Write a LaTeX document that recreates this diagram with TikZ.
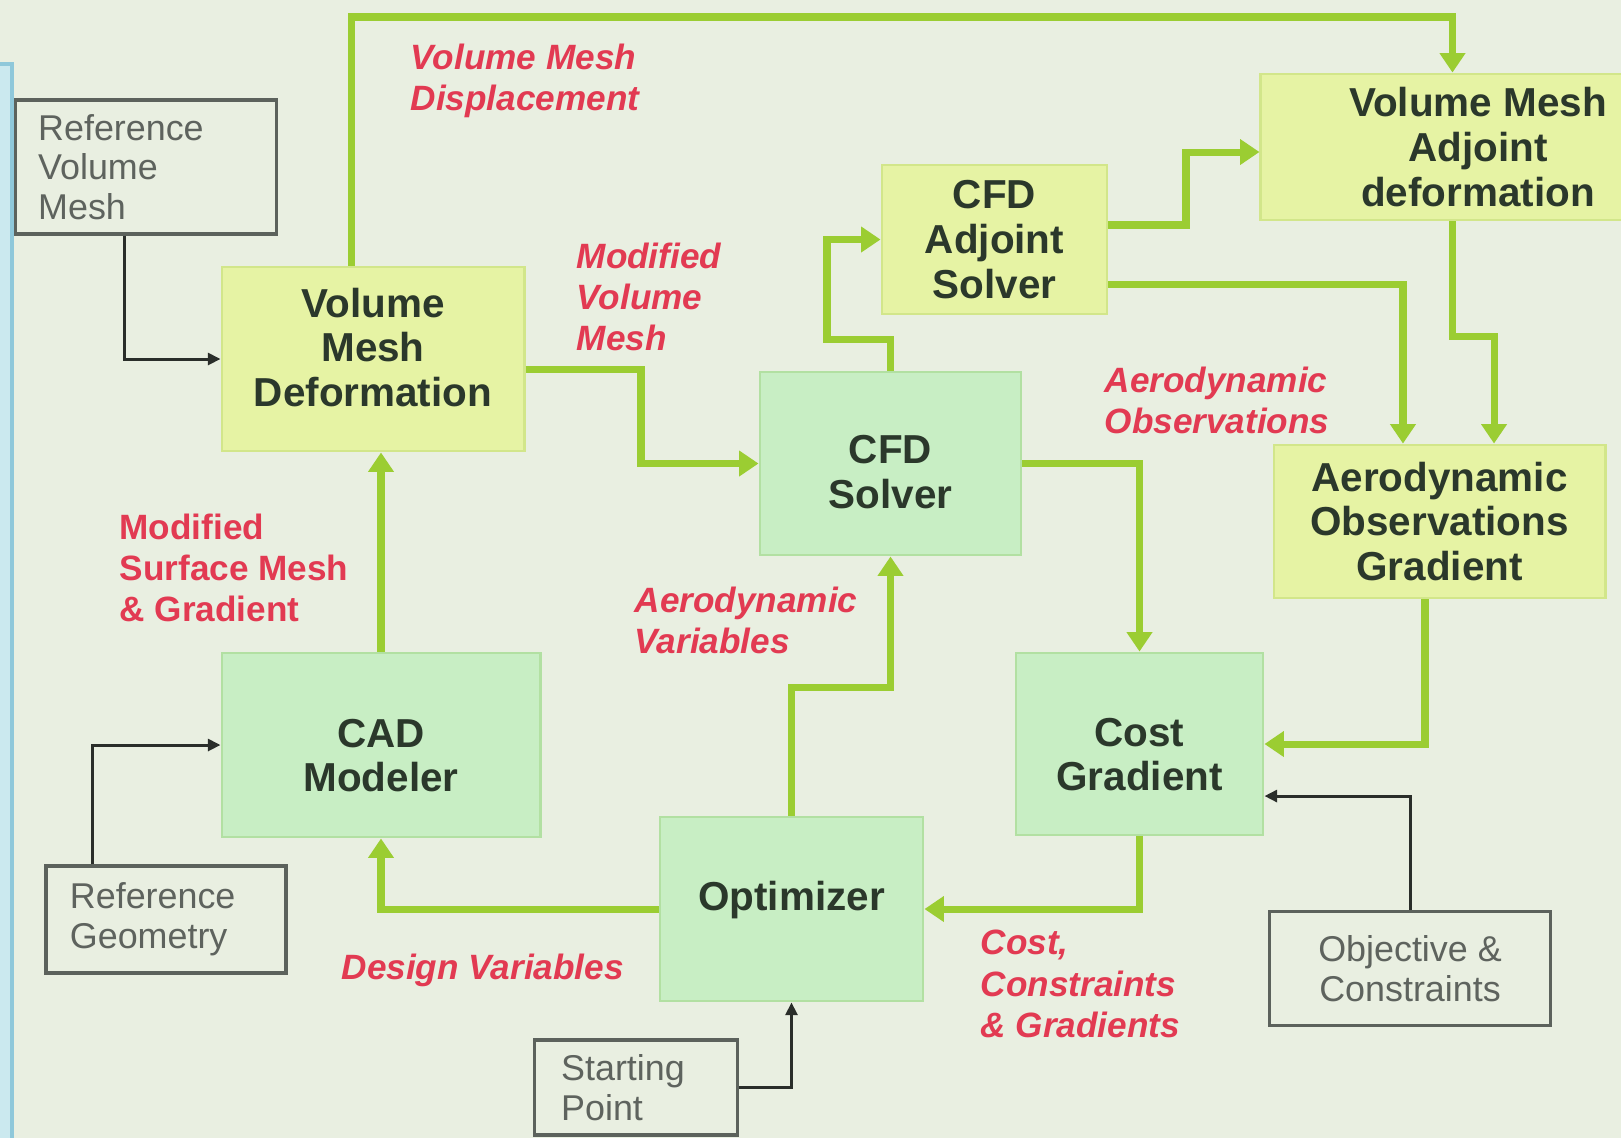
\documentclass[tikz,border=0pt]{standalone}
\usepackage{fontspec}
\setmainfont{Liberation Sans}
\usepackage{xcolor}
\usetikzlibrary{arrows.meta}

\definecolor{bggray}{HTML}{E9EFE1}
\definecolor{barcyan}{HTML}{CBE9EF}
\definecolor{barline}{HTML}{8FC8DA}
\definecolor{yellowfill}{HTML}{E6F3A4}
\definecolor{yellowline}{HTML}{D2E68A}
\definecolor{greenfill}{HTML}{C8EEC4}
\definecolor{greenline}{HTML}{B2E0A2}
\definecolor{flowgreen}{HTML}{9BCD32}
\definecolor{feedblack}{HTML}{2A2E2A}
\definecolor{greyline}{HTML}{5C625C}
\definecolor{greytext}{HTML}{5E635E}
\definecolor{boxtext}{HTML}{2B382B}
\definecolor{tagred}{HTML}{E23A52}

\newcommand{\blockfont}{\fontsize{11.5}{12.7}\selectfont\bfseries}
\newcommand{\notefont}{\fontsize{10.2}{11.3}\selectfont}
\newcommand{\redfont}{\fontsize{10}{11.7}\selectfont\bfseries}

\begin{document}
\begin{tikzpicture}[x=0.01cm, y=-0.01cm,
  yellowbox/.style={draw=yellowline, fill=yellowfill, line width=0.8pt, text=boxtext, font=\blockfont, align=center, inner sep=0pt},
  greenbox/.style={yellowbox, draw=greenline, fill=greenfill},
  greybox/.style={draw=greyline, line width=0.9pt, text=greytext, font=\notefont, inner sep=0pt},
  tag/.style={text=tagred, font=\redfont\itshape, align=left, inner sep=0pt, anchor=west},
  flow/.style={draw=flowgreen, line width=2pt, -{Triangle[length=5.5pt,width=7pt]}},
  feed/.style={draw=feedblack, line width=0.85pt, -{Triangle[length=3.6pt,width=3.4pt]}}]

\useasboundingbox (0,0) rectangle (1621,1138);
\fill[bggray] (0,0) rectangle (1621,1138);

\fill[barcyan] (0,64) rectangle (12,1138);
\draw[barline, line width=1pt] (0,64) -- (12,64) -- (12,1138);

% input boxes
\node[greybox, text width=2.16cm, inner xsep=0.225cm, align=left, minimum height=1.34cm] (refvol) at (146.25,167) {Reference\\Volume\\Mesh};
\node[greybox, text width=1.92cm, inner xsep=0.24cm, align=left, minimum height=1.07cm] (refgeo) at (166,919.5) {Reference\\Geometry};
\node[greybox, text width=1.49cm, inner xsep=0.27cm, align=left, minimum height=0.95cm] (startpt) at (635.75,1087.5) {Starting\\Point};
\node[greybox, align=center, minimum width=2.81cm, minimum height=1.14cm] (objcon) at (1410,968.7) {Objective \&\\Constraints};

% process boxes
\node[yellowbox, minimum width=3.02cm, minimum height=1.84cm, text depth=0.24cm] (vmd) at (373,359) {Volume\\Mesh\\Deformation};
\node[yellowbox, minimum width=2.25cm, minimum height=1.49cm] (cfdadj) at (994.5,239.5) {CFD\\Adjoint\\Solver};
\node[yellowbox, minimum width=4.34cm, minimum height=1.46cm] (vmadj) at (1478,147) {Volume Mesh\\Adjoint\\deformation};
\node[yellowbox, minimum width=3.31cm, minimum height=1.53cm] (aog) at (1439.5,521.5) {Aerodynamic\\Observations\\Gradient};

\node[greenbox, minimum width=2.61cm, minimum height=1.83cm, text height=0.9cm] (cfds) at (890.5,463.5) {CFD\\Solver};
\node[greenbox, minimum width=3.18cm, minimum height=1.84cm, text height=0.94cm] (cad) at (381,745) {CAD\\Modeler};
\node[greenbox, minimum width=2.47cm, minimum height=1.82cm, text height=0.94cm] (costg) at (1139.5,744) {Cost\\Gradient};
\node[greenbox, minimum width=2.63cm, minimum height=1.84cm, text depth=0.27cm] (opt) at (791.5,909) {Optimizer};

% bends
\coordinate (toprail) at (900,17);
\coordinate (volbend) at (641,400);
\coordinate (adjbend) at (827,339);
\coordinate (outbend) at (1186,190);
\coordinate (obsbend) at (1470,336);
\coordinate (varbend) at (840,687);

% data flow
\draw[flow] ([xshift=-0.215cm]vmd.north) |- (toprail) -| ([xshift=-0.255cm]vmadj.north);
\draw[flow] ([yshift=-0.1cm]vmd.east) -| (volbend) |- (cfds.west);
\draw[flow] (cfds.north) |- (adjbend) |- (cfdadj.west);
\draw[flow] ([yshift=0.145cm]cfdadj.east) -| (outbend) |- ([yshift=-0.05cm]vmadj.west);
\draw[flow] ([yshift=-0.445cm]cfdadj.east) -| ([xshift=-0.365cm]aog.north);
\draw[flow] ([xshift=-0.255cm]vmadj.south) |- (obsbend) -| ([xshift=0.545cm]aog.north);
\draw[flow] (cfds.east) -| (costg.north);
\draw[flow] ([xshift=-0.145cm]aog.south) |- (costg.east);
\draw[flow] (costg.south) |- (opt.east);
\draw[flow] (opt.west) -| (cad.south);
\draw[flow] (opt.north) |- (varbend) -| (cfds.south);
\draw[flow] (cad.north) -- (cad.north |- vmd.south);

% inputs
\draw[feed] ([xshift=-0.22cm]refvol.south) |- (vmd.west);
\draw[feed] ([xshift=-0.73cm]refgeo.north) |- (cad.west);
\draw[feed] (startpt.east) -| (opt.south);
\draw[feed] (objcon.north) |- ([yshift=-0.52cm]costg.east);

% labels
\node[tag] (lbldisp) at (410,81) {Volume Mesh\\Displacement};
\node[tag] (lblmodvol) at (576,297) {Modified\\Volume\\Mesh};
\node[tag] (lblobs) at (1104,400.5) {Aerodynamic\\Observations};
\node[tag, font=\redfont] (lblsurf) at (119,568) {Modified\\Surface Mesh\\\& Gradient};
\node[tag] (lblaerovar) at (634,620) {Aerodynamic\\Variables};
\node[tag] (lbldesign) at (341,970) {Design Variables};
\node[tag] (lblcost) at (980,984) {Cost,\\Constraints\\\& Gradients};

\end{tikzpicture}
\end{document}
